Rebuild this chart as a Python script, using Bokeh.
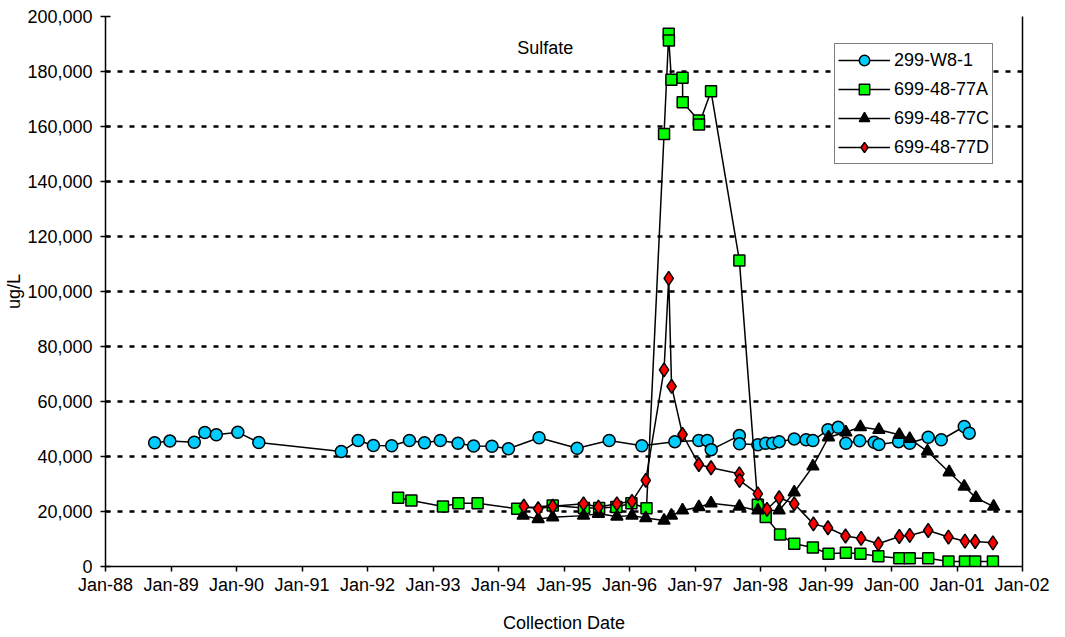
import pandas as pd
from bokeh.plotting import figure
from bokeh.models import (Range1d, FixedTicker, NumeralTickFormatter, Legend, LegendItem,
                          Label, LinearAxis)
from bokeh.embed import file_html
from bokeh.resources import INLINE

# ---------------- data ----------------
w8_dates = ["1988-10-01", "1988-12-25", "1989-05-10", "1989-07-08", "1989-09-10", "1990-01-08",
            "1990-05-05", "1991-08-08", "1991-11-10", "1992-02-03", "1992-05-15", "1992-08-22",
            "1992-11-14", "1993-02-10", "1993-05-20", "1993-08-15", "1993-11-25", "1994-02-25",
            "1994-08-15", "1995-03-15", "1995-09-10", "1996-03-10", "1996-09-10", "1997-01-22",
            "1997-03-10", "1997-04-01", "1997-09-05", "1997-09-06", "1997-12-17", "1998-01-30",
            "1998-03-10", "1998-04-15", "1998-07-08", "1998-09-12", "1998-10-20", "1999-01-12",
            "1999-03-10", "1999-04-22", "1999-07-08", "1999-09-27", "1999-10-23", "2000-02-10",
            "2000-04-12", "2000-07-24", "2000-10-05", "2001-02-10", "2001-03-10"]
w8_vals = [45000, 45600, 45200, 48700, 47900, 48800,
           45100, 41800, 45800, 44000, 43900, 45800,
           45000, 45800, 44800, 43800, 43700, 42800,
           46800, 43000, 45800, 43900, 45400, 45800,
           45800, 42500, 47600, 44600, 44250, 44800,
           44800, 45400, 46400, 46100, 45800, 49700,
           50600, 44800, 45700, 45200, 44400, 45400,
           44800, 47000, 46100, 50900, 48500]

a_dates = ["1992-06-20", "1992-09-02", "1993-02-25", "1993-05-22", "1993-09-06", "1994-04-15",
           "1994-10-30", "1995-04-22", "1995-07-16", "1995-10-20", "1996-01-12", "1996-04-05",
           "1996-07-12", "1996-08-07", "1996-08-08", "1996-08-22", "1996-10-23", "1996-10-24",
           "1997-01-22", "1997-01-23", "1997-03-31", "1997-09-05", "1997-12-17", "1998-01-30",
           "1998-04-20", "1998-07-08", "1998-10-20", "1999-01-15", "1999-04-22", "1999-07-12",
           "1999-10-20", "2000-02-14", "2000-04-12", "2000-07-24", "2000-11-14", "2001-02-14",
           "2001-04-12", "2001-07-20"]
a_vals = [25000, 24000, 21800, 23000, 23000, 21000,
          22200, 21300, 21300, 21600, 23000, 21200,
          157300, 193700, 191300, 177000, 177700, 168800,
          162200, 160700, 172800, 111300, 22500, 18000,
          11600, 8250, 6900, 4600, 4970, 4600,
          3750, 3000, 3000, 3000, 1800, 1800,
          1800, 1800]

c_dates = ["1994-05-18", "1994-08-10", "1994-10-30", "1995-04-20", "1995-07-12", "1995-10-23",
           "1996-01-15", "1996-04-01", "1996-07-12", "1996-08-22", "1996-10-23", "1997-01-22",
           "1997-03-31", "1997-09-05", "1997-12-17", "1998-04-15", "1998-07-08", "1998-10-20",
           "1999-01-15", "1999-04-22", "1999-07-12", "1999-10-23", "2000-02-14", "2000-04-12",
           "2000-07-20", "2000-11-18", "2001-02-10", "2001-04-16", "2001-07-24"]
c_vals = [18500, 17300, 17900, 18500, 19200, 18200,
          18500, 17600, 16700, 18500, 20400, 21600,
          23000, 21800, 20400, 20400, 27000, 36400,
          47000, 48800, 50700, 49700, 47900, 46400,
          41900, 34300, 29100, 25000, 21800]

d_dates = ["1994-05-22", "1994-08-10", "1994-10-30", "1995-04-20", "1995-07-12", "1995-10-23",
           "1996-01-15", "1996-04-01", "1996-07-12", "1996-08-07", "1996-08-23", "1996-10-23",
           "1997-01-22", "1997-03-31", "1997-09-05", "1997-09-06", "1997-12-17", "1998-02-06",
           "1998-04-15", "1998-07-08", "1998-10-23", "1999-01-12", "1999-04-20", "1999-07-16",
           "1999-10-20", "2000-02-14", "2000-04-12", "2000-07-24", "2000-11-14", "2001-02-14",
           "2001-04-12", "2001-07-20"]
d_vals = [21900, 21000, 21900, 22800, 21600, 22800,
          23700, 31300, 71500, 104800, 65500, 48000,
          37100, 35900, 33700, 31300, 26400, 20800,
          25000, 22800, 15500, 14100, 11100, 10200,
          8250, 10900, 11300, 13100, 10700, 9200,
          9100, 8600]

series_names = ["299-W8-1", "699-48-77A", "699-48-77C", "699-48-77D"]
tick_years = list(range(1988, 2003))
tick_labels = ["Jan-88", "Jan-89", "Jan-90", "Jan-91", "Jan-92", "Jan-93", "Jan-94", "Jan-95",
               "Jan-96", "Jan-97", "Jan-98", "Jan-99", "Jan-00", "Jan-01", "Jan-02"]
y_ticks = [0, 20000, 40000, 60000, 80000, 100000, 120000, 140000, 160000, 180000, 200000]
chart_title = "Sulfate"
title_pos = ("1994-09-18", 188700)

# ---------------- helpers ----------------
def to_ms(dates):
    return list(pd.to_datetime(dates).astype("int64") // 10**6)

FONT = "Liberation Sans"
FS = "18px"

tick_ms = to_ms([f"{y}-01-01" for y in tick_years])

p = figure(frame_width=917, frame_height=550, x_axis_type="datetime",
           output_backend="svg", toolbar_location=None,
           x_range=Range1d(tick_ms[0], tick_ms[-1]), y_range=Range1d(0, 200000),
           min_border_left=105, min_border_right=27, min_border_top=16, min_border_bottom=60)
p.outline_line_color = None
p.background_fill_color = "white"
p.border_fill_color = "white"

# axes
p.xaxis.ticker = FixedTicker(ticks=tick_ms)
p.xaxis.major_label_overrides = {float(t): l for t, l in zip(tick_ms, tick_labels)}
p.xaxis.axis_label = "Collection Date"
p.yaxis.ticker = FixedTicker(ticks=y_ticks)
p.yaxis.formatter = NumeralTickFormatter(format="0,0")
p.yaxis.axis_label = "ug/L"
for ax in (p.xaxis, p.yaxis):
    ax.axis_line_color = "black"
    ax.axis_line_width = 1.5
    ax.major_tick_line_color = "black"
    ax.major_tick_line_width = 1.5
    ax.minor_tick_line_color = None
    ax.major_label_text_font = FONT
    ax.major_label_text_font_size = FS
    ax.major_label_text_color = "black"
    ax.axis_label_text_font = FONT
    ax.axis_label_text_font_size = FS
    ax.axis_label_text_font_style = "normal"
    ax.axis_label_text_color = "black"
p.xaxis.major_tick_in = 0
p.xaxis.major_tick_out = 5
p.xaxis.major_label_standoff = 3
p.xaxis.axis_label_standoff = 15
p.yaxis.major_tick_in = 5
p.yaxis.major_tick_out = 5
p.yaxis.major_label_standoff = 8
p.yaxis.axis_label_standoff = 0

right_ax = LinearAxis(axis_line_color="black", axis_line_width=1.5,
                      major_tick_line_color=None, minor_tick_line_color=None,
                      major_label_text_font_size="0px", ticker=FixedTicker(ticks=[]))
p.add_layout(right_ax, "right")

# grids
p.xgrid.grid_line_color = None
p.ygrid.ticker = FixedTicker(ticks=y_ticks)
p.ygrid.grid_line_color = "black"
p.ygrid.grid_line_width = 2.5
p.ygrid.grid_line_dash = "5 7"

# series
specs = [
    (w8_dates, w8_vals, "circle", "#00CCFF", 12),
    (a_dates, a_vals, "square", "#00FF00", 11),
    (c_dates, c_vals, "triangle", "black", 12),
    (d_dates, d_vals, "diamond", "#FF0000", 14),
]
items = []
for name, (dts, vals, marker, color, size) in zip(series_names, specs):
    xs = to_ms(dts)
    lr = p.line(xs, vals, line_color="black", line_width=1.5)
    sr = p.scatter(xs, vals, marker=marker, size=size, fill_color=color,
                   line_color="black", line_width=1.5)
    items.append(LegendItem(label=name, renderers=[lr, sr]))

legend = Legend(items=items, location=(729, 402), orientation="vertical",
                label_text_font=FONT, label_text_font_size=FS, label_text_color="black",
                glyph_width=52, glyph_height=26, label_height=26, spacing=3, padding=3,
                label_standoff=4, border_line_color="black", border_line_width=1,
                background_fill_color="white", background_fill_alpha=1.0, margin=0)
p.add_layout(legend, "center")

p.add_layout(Label(x=to_ms([title_pos[0]])[0], y=title_pos[1], text=chart_title,
                   text_font=FONT, text_font_size=FS, text_align="center",
                   text_baseline="middle", text_color="black"))

open("out.html", "w").write(file_html(p, INLINE))
